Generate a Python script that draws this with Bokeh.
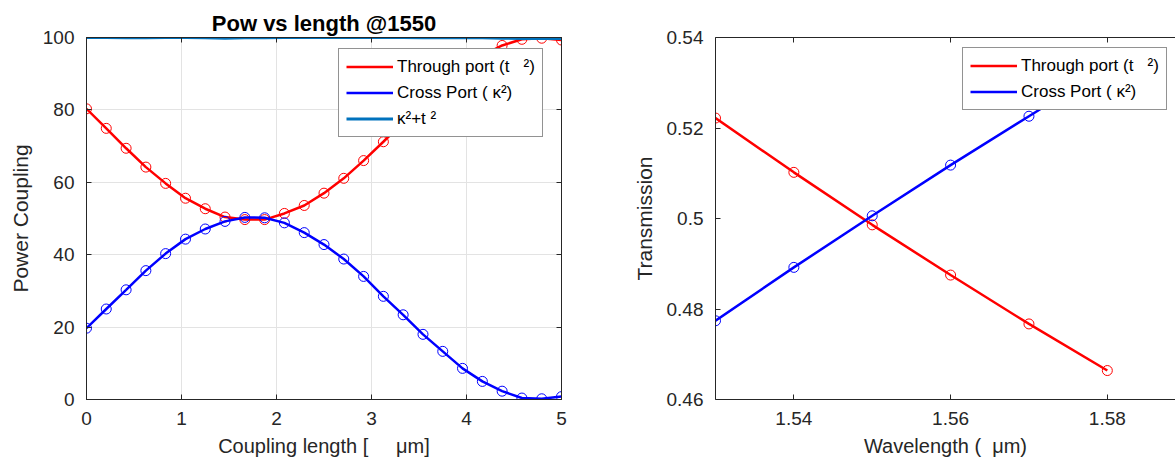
from bokeh.plotting import figure
from bokeh.layouts import row
from bokeh.models import (LinearAxis, Range1d, Legend, LegendItem, Title,
                          FixedTicker, CustomJSTickFormatter)
from bokeh.embed import file_html
from bokeh.resources import INLINE

# ---------------- data ----------------
coupling_length = [0.0, 0.208, 0.417, 0.625, 0.833, 1.042, 1.25, 1.458, 1.667,
                   1.875, 2.083, 2.292, 2.5, 2.708, 2.917, 3.125, 3.333, 3.542,
                   3.75, 3.958, 4.167, 4.375, 4.583, 4.792, 5.0]
through_pct = [80.3, 74.9, 69.4, 64.2, 59.7, 55.6, 52.7, 50.4, 49.7, 49.7,
               51.4, 53.6, 57.0, 61.1, 66.0, 71.2, 76.6, 82.0, 86.7, 91.4,
               95.0, 97.8, 99.5, 99.8, 99.3]
cross_pct = [19.7, 25.0, 30.3, 35.6, 40.3, 44.3, 47.1, 49.2, 50.3, 50.2,
             48.8, 46.1, 42.8, 38.8, 34.0, 28.5, 23.4, 18.0, 13.3, 8.6,
             5.0, 2.3, 0.4, 0.2, 0.8]
sum_pct = [100.0, 100.0, 99.9, 99.9, 100.0, 100.0, 99.9, 99.8, 99.9, 99.9,
           100.0, 100.0, 100.0, 100.0, 100.0, 100.0, 100.0, 99.9, 99.9, 99.9,
           99.9, 99.8, 99.7, 99.7, 99.7]

wavelength = [1.53, 1.54, 1.55, 1.56, 1.57, 1.58]
through_T = [0.5222, 0.5102, 0.4986, 0.4875, 0.4767, 0.4664]
cross_T = [0.4774, 0.4892, 0.5006, 0.5118, 0.5226, 0.5334]

x1_ticks = [0, 1, 2, 3, 4, 5]
y1_ticks = [0, 20, 40, 60, 80, 100]
x2_ticks = [1.54, 1.56, 1.58]
y2_ticks = [0.46, 0.48, 0.5, 0.52, 0.54]
y2_labels = ["0.46", "0.48", "0.5", "0.52", "0.54"]

NB = "\u00a0"
title_text = "Pow vs length @1550"
legend_labels = ["Through port (t" + NB * 3 + "\u00b2)",
                 "Cross Port ( \u03ba\u00b2)",
                 "\u03ba\u00b2+t \u00b2"]
x1_label = "Coupling length [" + NB * 5 + "\u03bcm]"
y1_label = "Power Coupling"
x2_label = "Wavelength (" + NB * 2 + "\u03bcm)"
y2_label = "Transmission"

# ---------------- style ----------------
FONT = "Liberation Sans"
AX = "#262626"
RED = "#ff0000"
BLUE = "#0000ff"
SUMC = "#0072bd"


def style_axis(ax, labels=True):
    ax.axis_line_color = AX
    ax.axis_line_width = 1
    ax.major_tick_line_color = AX
    ax.major_tick_in = 5
    ax.major_tick_out = 0
    ax.minor_tick_line_color = None
    ax.major_label_text_color = AX
    ax.major_label_text_font = FONT
    ax.major_label_text_font_size = "19px"
    ax.axis_label_text_font = FONT
    ax.axis_label_text_font_size = "20px"
    ax.axis_label_text_font_style = "normal"
    ax.axis_label_text_color = AX
    if not labels:
        ax.formatter = CustomJSTickFormatter(code="return ''")
        ax.major_label_standoff = 0


def style_legend(leg, loc):
    leg.location = loc
    leg.border_line_color = AX
    leg.border_line_width = 1
    leg.background_fill_color = "white"
    leg.background_fill_alpha = 1
    leg.label_text_font = FONT
    leg.label_text_font_size = "17px"
    leg.label_text_color = "black"
    leg.glyph_width = 47
    leg.glyph_height = 21
    leg.label_height = 21
    leg.label_standoff = 4
    leg.spacing = 5
    leg.padding = 7
    leg.margin = 0


def style_frame_axes(p):
    p.xaxis.major_label_standoff = 12
    p.xaxis.axis_label_standoff = 7
    p.yaxis.major_label_standoff = 12
    p.yaxis.axis_label_standoff = 8
    p.yaxis.axis_label_text_font_size = "21px"


# ---------------- left plot ----------------
p1 = figure(width=600, height=461, x_range=Range1d(0, 5), y_range=Range1d(0, 100),
            output_backend="svg", toolbar_location=None, title=None,
            min_border_left=86, min_border_right=39, min_border_top=37,
            min_border_bottom=62)
p1.outline_line_color = AX
p1.xaxis.ticker = FixedTicker(ticks=x1_ticks)
p1.yaxis.ticker = FixedTicker(ticks=y1_ticks)
p1.xaxis.axis_label = x1_label
p1.yaxis.axis_label = y1_label
for ax in p1.xaxis + p1.yaxis:
    style_axis(ax)
style_frame_axes(p1)
p1.xgrid.grid_line_color = "#e3e3e3"
p1.ygrid.grid_line_color = "#e3e3e3"
p1.xgrid.ticker = FixedTicker(ticks=x1_ticks)
p1.ygrid.ticker = FixedTicker(ticks=y1_ticks)

top1 = LinearAxis(ticker=FixedTicker(ticks=x1_ticks))
style_axis(top1, labels=False)
p1.add_layout(top1, "above")
right1 = LinearAxis(ticker=FixedTicker(ticks=y1_ticks))
style_axis(right1, labels=False)
p1.add_layout(right1, "right")
p1.add_layout(Title(text=title_text, align="center", text_font=FONT,
                    text_font_size="22px", text_font_style="bold",
                    text_color="black", standoff=4), "above")

l_red = p1.line(coupling_length, through_pct, line_color=RED, line_width=2.5)
p1.scatter(coupling_length, through_pct, marker="circle", size=10,
           fill_color=None, line_color=RED, line_width=1)
l_blue = p1.line(coupling_length, cross_pct, line_color=BLUE, line_width=2.5)
p1.scatter(coupling_length, cross_pct, marker="circle", size=10,
           fill_color=None, line_color=BLUE, line_width=1)
l_sum = p1.line(coupling_length, sum_pct, line_color=SUMC, line_width=3)

leg1 = Legend(items=[LegendItem(label=legend_labels[0], renderers=[l_red]),
                     LegendItem(label=legend_labels[1], renderers=[l_blue]),
                     LegendItem(label=legend_labels[2], renderers=[l_sum])])
style_legend(leg1, (252, 262))
p1.add_layout(leg1, "center")

# ---------------- right plot ----------------
p2 = figure(width=575, height=461, x_range=Range1d(1.53, 1.5887),
            y_range=Range1d(0.46, 0.54),
            output_backend="svg", toolbar_location=None, title=None,
            min_border_left=115, min_border_right=0, min_border_top=37,
            min_border_bottom=62)
p2.outline_line_color = None
p2.grid.grid_line_color = None
p2.xaxis.ticker = FixedTicker(ticks=x2_ticks)
p2.yaxis.ticker = FixedTicker(ticks=y2_ticks)
p2.yaxis.major_label_overrides = dict(zip(y2_ticks, y2_labels))
p2.xaxis.axis_label = x2_label
p2.yaxis.axis_label = y2_label
for ax in p2.xaxis + p2.yaxis:
    style_axis(ax)
style_frame_axes(p2)

top2 = LinearAxis(ticker=FixedTicker(ticks=x2_ticks))
style_axis(top2, labels=False)
p2.add_layout(top2, "above")

r_red = p2.line(wavelength, through_T, line_color=RED, line_width=2.5)
p2.scatter(wavelength, through_T, marker="circle", size=10,
           fill_color=None, line_color=RED, line_width=1)
r_blue = p2.line(wavelength, cross_T, line_color=BLUE, line_width=2.5)
p2.scatter(wavelength, cross_T, marker="circle", size=10,
           fill_color=None, line_color=BLUE, line_width=1)

leg2 = Legend(items=[LegendItem(label=legend_labels[0], renderers=[r_red]),
                     LegendItem(label=legend_labels[1], renderers=[r_blue])])
style_legend(leg2, (247, 289))
p2.add_layout(leg2, "center")

layout = row(p1, p2)
open("out.html", "w").write(file_html(layout, INLINE))
